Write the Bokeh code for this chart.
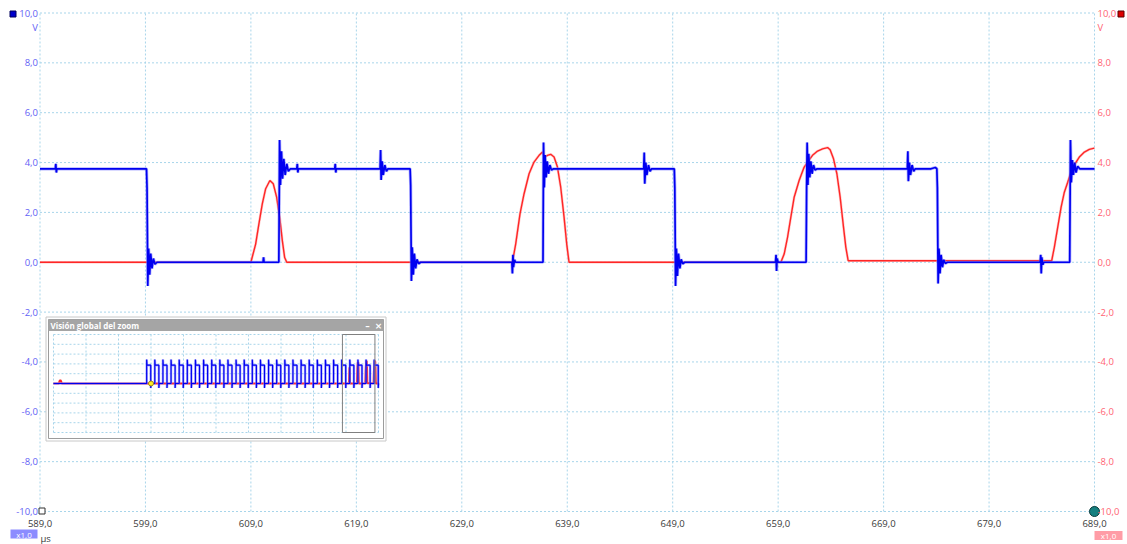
from bokeh.plotting import figure
from bokeh.models import Range1d, LinearAxis, FixedTicker
from bokeh.core.properties import value
from bokeh.embed import file_html
from bokeh.resources import INLINE

FONT = "Open Sans"

# ---- axes -------------------------------------------------------------
x_ticks = [589, 599, 609, 619, 629, 639, 649, 659, 669, 679, 689]
x_tick_labels = ["589,0", "599,0", "609,0", "619,0", "629,0", "639,0",
                 "649,0", "659,0", "669,0", "679,0", "689,0"]
y_ticks = [-10, -8, -6, -4, -2, 0, 2, 4, 6, 8, 10]
y_tick_labels = ["-10,0", "-8,0", "-6,0", "-4,0", "-2,0", "0,0",
                 "2,0", "4,0", "6,0", "8,0", "10,0"]

# ---- channel A (blue): time in µs, volts --------------------------------
blue_t = [589.0, 590.45, 590.5, 590.55, 590.6,
          599.1, 599.15, 599.22, 599.3, 599.4, 599.5, 599.62, 599.75, 599.9, 600.1,
          610.15, 610.2, 610.25,
          611.65, 611.72, 611.8, 611.9, 612.0, 612.12, 612.25, 612.4, 612.55, 612.75,
          613.35, 613.4, 613.45, 613.5,
          616.95, 617.0, 617.05, 617.1,
          621.25, 621.3, 621.35, 621.45, 621.55, 621.7, 621.85, 622.0,
          624.1, 624.15, 624.22, 624.3, 624.4, 624.5, 624.62, 624.75, 624.9, 625.1,
          633.75, 633.8, 633.85, 633.9, 634.0, 634.1,
          636.7, 636.75, 636.82, 636.9, 637.0, 637.1, 637.22, 637.35, 637.5, 637.7,
          646.25, 646.3, 646.35, 646.45, 646.55, 646.7, 646.85, 647.0,
          649.15, 649.2, 649.27, 649.35, 649.45, 649.55, 649.68, 649.8, 649.95, 650.15,
          658.75, 658.8, 658.85, 658.9, 659.0,
          661.65, 661.7, 661.75, 661.82, 661.9, 662.0, 662.1, 662.22, 662.35, 662.5, 662.7,
          671.25, 671.3, 671.35, 671.45, 671.55, 671.7, 671.85, 672.0,
          673.5, 673.9, 674.05, 674.1, 674.17, 674.25, 674.35, 674.45, 674.58, 674.7, 674.85, 675.05,
          683.85, 683.9, 683.95, 684.0, 684.1, 684.2,
          686.65, 686.72, 686.8, 686.9, 687.0, 687.12, 687.25, 687.4, 687.6, 689.0]
blue_v = [3.75, 3.75, 3.95, 3.6, 3.75,
          3.75, 3.0, -0.95, 0.55, -0.5, 0.35, -0.25, 0.15, -0.08, 0.0,
          0.0, 0.2, 0.0,
          0.0, 4.9, 3.1, 4.45, 3.35, 4.15, 3.5, 3.95, 3.65, 3.75,
          3.75, 3.95, 3.6, 3.75,
          3.75, 3.95, 3.6, 3.75,
          3.75, 4.5, 3.3, 4.05, 3.5, 3.9, 3.65, 3.75,
          3.75, 3.1, -0.75, 0.6, -0.5, 0.35, -0.25, 0.12, -0.06, 0.0,
          0.0, -0.45, 0.3, -0.2, 0.1, 0.0,
          0.0, 4.8, 3.0, 4.3, 3.4, 4.05, 3.55, 3.9, 3.7, 3.75,
          3.75, 4.4, 3.15, 4.0, 3.5, 3.9, 3.65, 3.75,
          3.75, 3.0, -0.95, 0.55, -0.55, 0.35, -0.25, 0.12, -0.06, 0.0,
          0.0, 0.3, -0.35, 0.15, 0.0,
          0.0, 3.0, 4.8, 3.1, 4.35, 3.4, 4.05, 3.55, 3.9, 3.7, 3.75,
          3.75, 4.45, 3.25, 4.0, 3.5, 3.9, 3.65, 3.75,
          3.75, 3.8, 3.75, 3.0, -0.85, 0.55, -0.45, 0.3, -0.2, 0.1, -0.05, 0.0,
          0.0, 0.3, -0.45, 0.2, -0.1, 0.0,
          0.0, 4.9, 3.2, 4.1, 3.5, 4.0, 3.6, 3.85, 3.75, 3.75]

# ---- channel B (red): time in µs, volts ---------------------------------
red_t = [589.0, 609.0, 609.45, 609.76, 610.08, 610.4, 610.8, 611.12, 611.44,
         611.75, 611.98, 612.2, 612.4,
         633.8, 634.11, 634.52, 634.9, 635.38, 635.85, 636.33, 636.65, 636.86,
         637.12, 637.43, 637.75, 638.07, 638.38, 638.7, 638.95, 639.17,
         659.26, 659.57, 659.89, 660.2, 660.52, 660.99, 661.46, 661.79, 662.26,
         662.74, 663.21, 663.69, 663.93, 664.25, 664.57, 664.88, 665.2, 665.42, 665.64,
         684.94, 685.19, 685.51, 685.83, 686.14, 686.46, 686.77, 687.15, 687.56,
         688.04, 688.51, 688.99]
red_v = [0.0, 0.0, 0.73, 1.54, 2.34, 2.95, 3.28, 3.15, 2.61,
         1.74, 0.87, 0.19, 0.0,
         0.0, 0.73, 1.94, 2.74, 3.55, 4.02, 4.29, 4.42, 4.22,
         4.29, 4.33, 4.22, 3.82, 3.01, 1.8, 0.73, 0.0,
         0.0, 0.33, 1.0, 1.8, 2.61, 3.28, 3.81, 4.02, 4.29,
         4.46, 4.55, 4.6, 4.51, 4.15, 3.55, 2.61, 1.4, 0.6, 0.06,
         0.06, 0.6, 1.4, 2.2, 2.81, 3.21, 3.61, 3.95, 4.22,
         4.42, 4.53, 4.58]

# ---- whole-capture overview (-300 .. 700 µs) ----------------------------
capture_start, capture_end = -300.0, 700.0
trigger_t = 0.0
red_pre_t = [-300.0, -283.0, -281.5, -279.0, -276.5, -274.5]
red_pre_v = [0.0, 0.0, 0.5, 0.7, 0.45, 0.0]
red_tail_t = [689.5, 690.1, 690.7, 691.2, 691.6, 700.0]
red_tail_v = [4.55, 4.3, 3.2, 1.5, 0.0, 0.0]
ov_rise = [-13.3, 11.7, 36.7, 61.7, 86.7, 111.7, 136.7, 161.7, 186.7, 211.7,
           236.7, 261.7, 286.7, 311.7, 336.7, 361.7, 386.7, 411.7, 436.7, 461.7,
           486.7, 511.7, 536.7, 561.7, 586.7, 611.7, 636.7, 661.7, 686.7]
ov_fall = [-0.8, 24.2, 49.2, 74.2, 99.2, 124.2, 149.2, 174.2, 199.2, 224.2,
           249.2, 274.2, 299.2, 324.2, 349.2, 374.2, 399.2, 424.2, 449.2, 474.2,
           499.2, 524.2, 549.2, 574.2, 599.2, 624.2, 649.2, 674.2, 699.2]
ov_high, ov_over, ov_under = 3.75, 4.9, -0.9

# ---- figure: the frame covers the whole canvas ----------------------------
W, H = 1127, 544
PX0, PX1 = 39.5, 1094.0      # plot area edges in canvas pixels
PY_TOP, PY_BOT = 12.5, 511.0


def span(d0, d1, c0, c1, f0, f1):
    """Range whose values d0/d1 land on canvas pixels c0/c1 of a frame spanning f0..f1."""
    k = (d1 - d0) / (c1 - c0)
    return Range1d(start=d0 + (f0 - c0) * k, end=d0 + (f1 - c0) * k)


p = figure(width=W, height=H,
           x_range=span(x_ticks[0], x_ticks[-1], PX0, PX1, 0, W),
           y_range=span(y_ticks[0], y_ticks[-1], PY_BOT, PY_TOP, H, 0),
           x_axis_location=None, y_axis_location=None,
           output_backend="svg", toolbar_location=None,
           min_border_left=0, min_border_right=0, min_border_top=0, min_border_bottom=0)
p.background_fill_color = "white"
p.border_fill_color = "white"
p.outline_line_color = None
p.grid.visible = False

p.extra_y_ranges = {
    "right": span(y_ticks[0], y_ticks[-1], PY_BOT, PY_TOP, H, 0),
    "cy": Range1d(start=H, end=0),                          # canvas pixel rows
    "iy": span(-10, 10, 432, 334, H, 0),                    # overview volts
}
p.extra_x_ranges = {
    "cx": Range1d(start=0, end=W),                          # canvas pixel columns
    "ix": span(capture_start, capture_end, 53, 378, 0, W),  # overview µs
}

LEFT_C, RIGHT_C, X_C = "#6262f5", "#ff6373", "#3a3a3a"
LBL_SIZE = "9.5px"

xa = LinearAxis(ticker=FixedTicker(ticks=x_ticks), fixed_location=y_ticks[0])
xa.major_label_overrides = dict(zip(x_ticks, x_tick_labels))
xa.major_label_text_color = X_C
xa.major_label_standoff = 8

ya = LinearAxis(ticker=FixedTicker(ticks=y_ticks), fixed_location=x_ticks[0])
ya.major_label_overrides = dict(zip(y_ticks, y_tick_labels))
ya.major_label_text_color = LEFT_C
ya.major_label_standoff = 2

yr = LinearAxis(y_range_name="right", ticker=FixedTicker(ticks=y_ticks),
                fixed_location=x_ticks[-1])
yr.major_label_overrides = dict(zip(y_ticks, y_tick_labels))
yr.major_label_text_color = RIGHT_C
yr.major_label_standoff = 3

for ax in (xa, ya, yr):
    ax.axis_line_color = None
    ax.major_tick_line_color = None
    ax.minor_tick_line_color = None
    ax.major_tick_out = 0
    ax.major_tick_in = 0
    ax.major_label_text_font = FONT
    ax.major_label_text_font_size = LBL_SIZE
p.add_layout(xa, "below")
p.add_layout(ya, "left")
p.add_layout(yr, "right")

# dashed grid over the plot area
GRID_C = "#a8d5ea"
p.segment(x0=x_ticks, y0=[y_ticks[0]] * len(x_ticks), x1=x_ticks, y1=[y_ticks[-1]] * len(x_ticks),
          line_color=GRID_C, line_dash="2 2", line_width=1)
p.segment(x0=[x_ticks[0]] * len(y_ticks), y0=y_ticks, x1=[x_ticks[-1]] * len(y_ticks), y1=y_ticks,
          line_color=GRID_C, line_dash="2 2", line_width=1)

# ---- traces --------------------------------------------------------------
p.line(red_t, red_v, line_color="#ff9a9a", line_width=2.6, line_alpha=0.55)
p.line(red_t, red_v, line_color="#ff2626", line_width=1.4)
p.line(blue_t, blue_v, line_color="#8484ff", line_width=3.2, line_alpha=0.6)
p.line(blue_t, blue_v, line_color="#0000f0", line_width=1.7)

# ---- overview window -----------------------------------------------------
C = dict(x_range_name="cx", y_range_name="cy")
I = dict(x_range_name="ix", y_range_name="iy")

p.quad(left=[45.5], right=[385.5], top=[316.5], bottom=[440.5],
       fill_color="white", line_color="#c8c8c8", line_width=1, **C)
p.quad(left=[48], right=[383], top=[319], bottom=[438],
       fill_color="white", line_color="#9c9c9c", line_width=1, **C)
p.quad(left=[48], right=[383], top=[319], bottom=[330.5],
       fill_color="#a5a5a5", line_color=None, **C)
p.text(x=[50], y=[325], text=["Visión global del zoom"], text_color="white",
       text_font=value(FONT), text_font_style="bold", text_font_size="8px",
       text_baseline="middle", **C)
p.text(x=[367, 378], y=[325, 325], text=["–", "×"], text_color="white",
       text_font=value("DejaVu Sans"), text_font_style="bold", text_font_size="9px",
       text_baseline="middle", text_align="center", **C)

# overview grid
gx = [capture_start + 100 * k for k in range(11)]
gy = y_ticks
p.segment(x0=gx, y0=[-10] * len(gx), x1=gx, y1=[10] * len(gx),
          line_color=GRID_C, line_dash="2 2", line_width=1, **I)
p.segment(x0=[capture_start] * len(gy), y0=gy, x1=[capture_end] * len(gy), y1=gy,
          line_color=GRID_C, line_dash="2 2", line_width=1, **I)

# overview traces
ov_t, ov_v = [capture_start], [0.0]
for r, f in zip(ov_rise, ov_fall):
    ov_t += [r, r, r + 1.0, f, f, f + 1.0]
    ov_v += [0.0, ov_over, ov_high, ov_high, ov_under, 0.0]
ov_t.append(capture_end)
ov_v.append(0.0)

ov_red_t = red_pre_t + red_t + red_tail_t
ov_red_v = red_pre_v + red_v + red_tail_v
p.line(ov_red_t, ov_red_v, line_color="#ff2626", line_width=2, **I)
p.line(ov_t, ov_v, line_color="#8c8cff", line_width=2.5, line_alpha=0.7, **I)
p.line(ov_t, ov_v, line_color="#0000f0", line_width=1.2, **I)
p.scatter([trigger_t], [0.0], marker="circle", size=5, fill_color="#ffee22",
          line_color="#8a7a00", line_width=0.8, **I)

# displayed window inside the overview
p.quad(left=[x_ticks[0]], right=[x_ticks[-1]], top=[10], bottom=[-10],
       fill_color=None, line_color="#808080", line_width=1, **I)

# ---- channel markers, units and scale badges -----------------------------
p.quad(left=[9.5, 1117.5], right=[15.5, 1123.5], top=[10.5, 10.5], bottom=[16.5, 16.5],
       fill_color=["#0000cc", "#dd0000"], line_color=["#00005a", "#5a0000"], **C)
p.text(x=[37.5], y=[27], text=["V"], text_color=LEFT_C, text_align="right",
       text_baseline="middle", text_font=value(FONT), text_font_size=LBL_SIZE, **C)
p.text(x=[1097], y=[27], text=["V"], text_color=RIGHT_C, text_align="left",
       text_baseline="middle", text_font=value(FONT), text_font_size=LBL_SIZE, **C)
p.quad(left=[38.5], right=[44.5], top=[507.5], bottom=[513.5],
       fill_color="white", line_color="#303030", **C)
p.scatter([1094], [511], marker="circle", size=10, fill_color="#168080",
          line_color="#0b3b3b", line_width=1, **C)
p.quad(left=[10, 1094], right=[37, 1122], top=[529, 530.5], bottom=[538, 539.5],
       fill_color=["#8c8cff", "#ff9ca6"], line_color=None, **C)
p.text(x=[23.5, 1108], y=[533.8, 535.3], text=["x1,0", "x1,0"], text_color="white",
       text_align="center", text_baseline="middle", text_font=value(FONT),
       text_font_size="8px", **C)
p.text(x=[40], y=[538], text=["µs"], text_color=X_C, text_align="left",
       text_baseline="middle", text_font=value(FONT), text_font_size=LBL_SIZE, **C)

open("out.html", "w").write(file_html(p, INLINE))
